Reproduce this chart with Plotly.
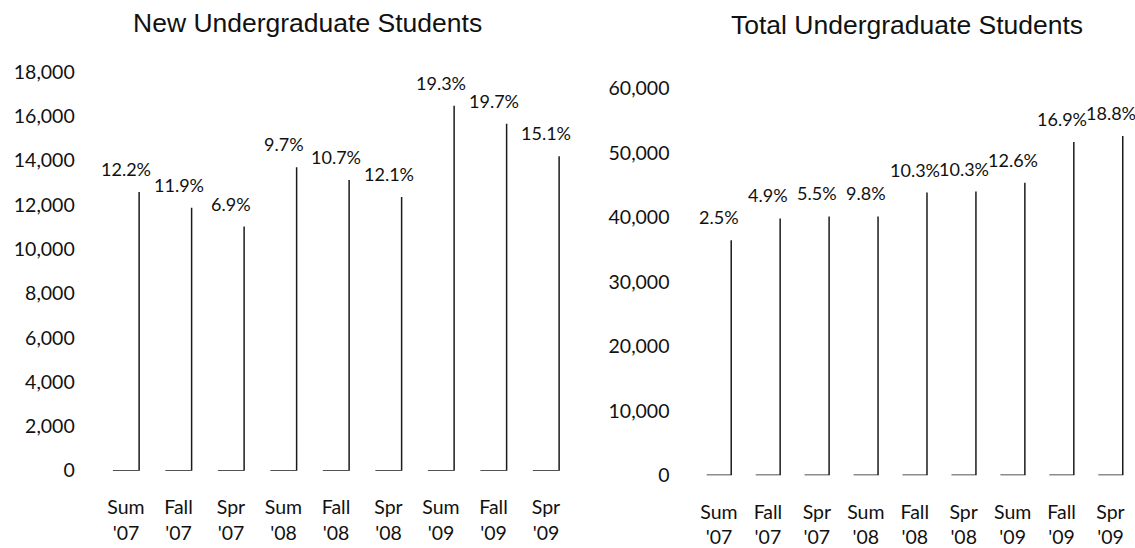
import plotly.graph_objects as go

categories = ["Sum<br>'07", "Fall<br>'07", "Spr<br>'07", "Sum<br>'08", "Fall<br>'08",
              "Spr<br>'08", "Sum<br>'09", "Fall<br>'09", "Spr<br>'09"]
new_students = [12580, 11870, 11020, 13700, 13120, 12360, 16480, 15670, 14200]
new_pct = ["12.2%", "11.9%", "6.9%", "9.7%", "10.7%", "12.1%", "19.3%", "19.7%", "15.1%"]
total_students = [36460, 39850, 40150, 40150, 43850, 44000, 45380, 51690, 52620]
total_pct = ["2.5%", "4.9%", "5.5%", "9.8%", "10.3%", "10.3%", "12.6%", "16.9%", "18.8%"]
new_ticks = list(range(0, 18001, 2000))
total_ticks = list(range(0, 60001, 10000))
titles = ["New Undergraduate Students", "Total Undergraduate Students"]

LINE = "#1a1a1a"
TICK_FONT = dict(family="Lato", size=19.5, color="#111")
PCT_FONT = dict(family="Lato", size=18, color="#111")
TITLE_FONT = dict(family="Liberation Sans", size=26.5, color="#111")
W, H = 1135, 548


def l_path(values, half=0.25):
    xs, ys = [], []
    for i, v in enumerate(values):
        xs += [i - half, i + half, i + half, None]
        ys += [0, 0, v, None]
    return xs, ys


fig = go.Figure()
for vals, xa, ya in [(new_students, "x", "y"), (total_students, "x2", "y2")]:
    xs, ys = l_path(vals)
    fig.add_trace(go.Scatter(x=xs, y=ys, xaxis=xa, yaxis=ya, mode="lines",
                             line=dict(color=LINE, width=1.5), cliponaxis=False,
                             hoverinfo="skip", showlegend=False))

annotations = []
for vals, pcts, xr, yr in [(new_students, new_pct, "x", "y"), (total_students, total_pct, "x2", "y2")]:
    for i, (v, p) in enumerate(zip(vals, pcts)):
        annotations.append(dict(x=i, y=v, xref=xr, yref=yr, text=p, showarrow=False,
                                yanchor="middle", xanchor="center", yshift=23, font=PCT_FONT))

annotations.append(dict(x=307 / W, y=1 - 11.5 / H, xref="paper", yref="paper", text=titles[0],
                        showarrow=False, xanchor="center", yanchor="middle", font=TITLE_FONT))
annotations.append(dict(x=907 / W, y=1 - 14 / H, xref="paper", yref="paper", text=titles[1],
                        showarrow=False, xanchor="center", yanchor="middle", font=TITLE_FONT))

common_x = dict(range=[-0.5, 8.5], tickmode="array", tickvals=list(range(len(categories))),
                ticktext=categories, showgrid=False, zeroline=False, showline=False,
                tickfont=TICK_FONT, fixedrange=True)
common_y = dict(showgrid=False, zeroline=False, showline=False, tickfont=TICK_FONT,
                tickmode="array", ticklabelstandoff=24, fixedrange=True)

fig.update_layout(
    width=W, height=H,
    margin=dict(l=0, r=0, t=0, b=0),
    paper_bgcolor="white", plot_bgcolor="white",
    xaxis=dict(domain=[99.75 / W, 572.25 / W], anchor="y", ticklabelstandoff=23, **common_x),
    xaxis2=dict(domain=[694.5 / W, 1.0], anchor="y2", ticklabelstandoff=23, **common_x),
    yaxis=dict(domain=[1 - 489 / H, 1 - 64 / H], anchor="x", range=[0, 18000],
               tickvals=new_ticks, ticktext=[f"{t:,}" for t in new_ticks], **common_y),
    yaxis2=dict(domain=[1 - 494 / H, 1 - 81.5 / H], anchor="x2", range=[0, 60000],
                tickvals=total_ticks, ticktext=[f"{t:,}" for t in total_ticks], **common_y),
    annotations=annotations,
)

fig.write_html("out.html", config={"displayModeBar": False},
               post_script="document.body.style.margin='0';document.body.style.overflow='hidden';")
